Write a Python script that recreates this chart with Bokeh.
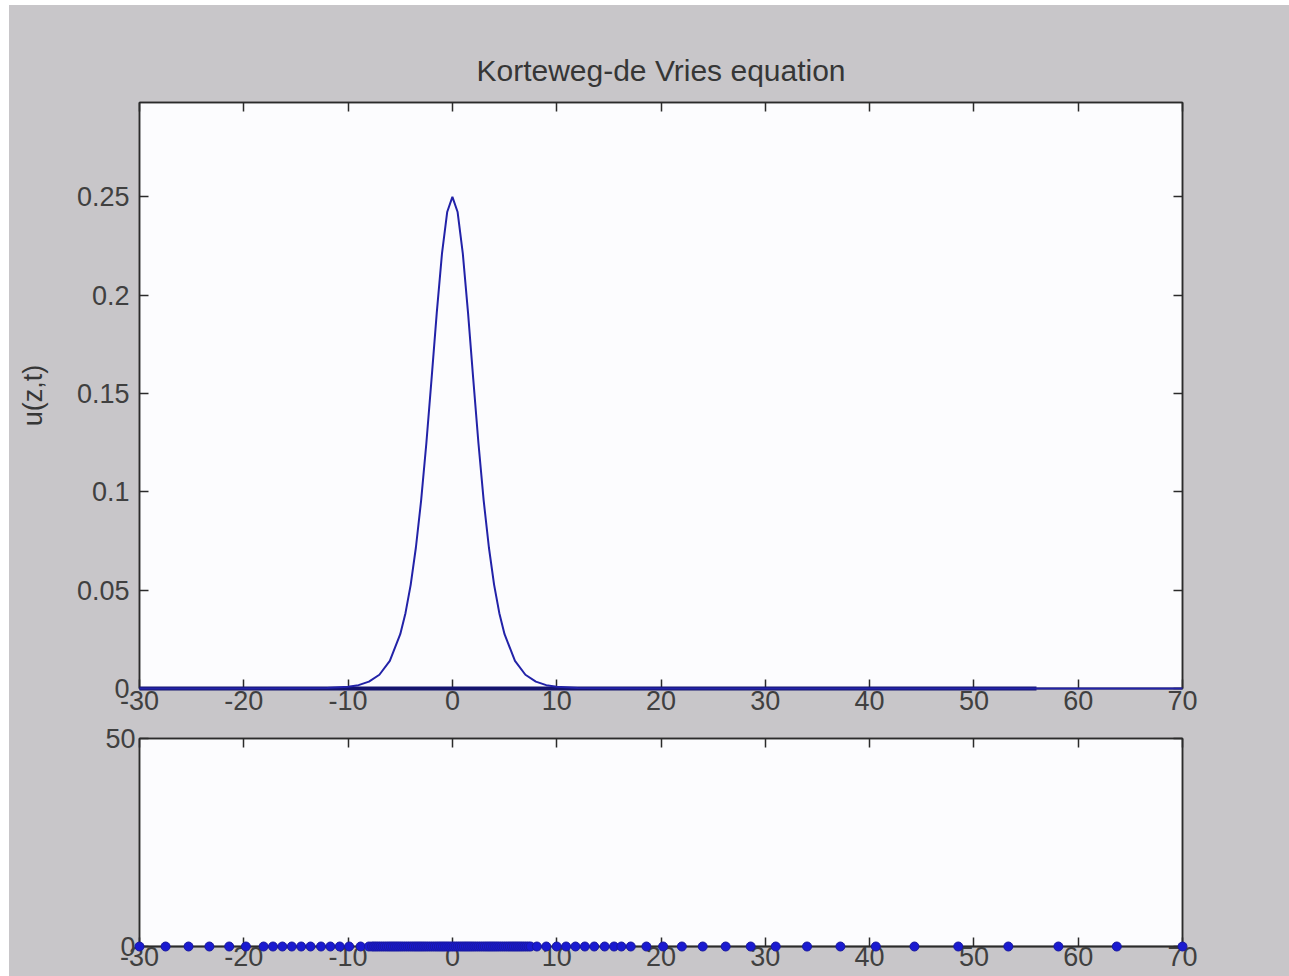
from bokeh.plotting import figure
from bokeh.layouts import column
from bokeh.models import LinearAxis, FixedTicker, Range1d
from bokeh.embed import file_html
from bokeh.resources import INLINE

# Soliton profile u(z,t) at the current time step
curve_z = [-30, -20, -12, -10, -9, -8, -7, -6, -5, -4.5, -4, -3.5, -3, -2.5, -2,
           -1.5, -1, -0.5, 0, 0.5, 1, 1.5, 2, 2.5, 3, 3.5, 4, 4.5, 5, 6, 7, 8,
           9, 10, 12, 20, 40, 56, 70]
curve_u = [0, 0, 0.0002, 0.0009, 0.0017, 0.0035, 0.0070, 0.0140, 0.0276, 0.0383,
           0.0527, 0.0717, 0.0955, 0.1246, 0.1573, 0.1910, 0.2211, 0.2423, 0.2500,
           0.2423, 0.2211, 0.1910, 0.1573, 0.1246, 0.0955, 0.0717, 0.0527, 0.0383,
           0.0276, 0.0140, 0.0070, 0.0035, 0.0017, 0.0009, 0.0002, 0, 0, 0, 0]

# Earlier profile that lies flat along the axis
base_z = [-30, 56]
base_u = [0, 0]

# Adaptive grid nodes (coarse far field, refined around the soliton)
mesh_left = [-30.0, -27.5, -25.3, -23.3, -21.4, -19.8, -18.1, -17.2, -16.3, -15.4,
             -14.5, -13.6, -12.6, -11.7, -10.8, -9.9, -8.8, -8.0]
mesh_core = [-7.7, -7.5, -7.3, -7.1, -6.9, -6.7, -6.5, -6.3, -6.1, -5.9, -5.7, -5.5,
             -5.3, -5.1, -4.9, -4.7, -4.5, -4.3, -4.1, -3.9, -3.7, -3.5, -3.3, -3.1,
             -2.9, -2.7, -2.5, -2.3, -2.1, -1.9, -1.7, -1.5, -1.3, -1.1, -0.9, -0.7,
             -0.5, -0.3, -0.1, 0.1, 0.3, 0.5, 0.7, 0.9, 1.1, 1.3, 1.5, 1.7, 1.9, 2.1,
             2.3, 2.5, 2.7, 2.9, 3.1, 3.3, 3.5, 3.7, 3.9, 4.1, 4.3, 4.5, 4.7, 4.9,
             5.1, 5.3, 5.5, 5.7, 5.9, 6.1, 6.3, 6.5, 6.7, 6.9, 7.1, 7.3, 7.5]
mesh_right = [8.1, 9.0, 10.0, 10.9, 11.8, 12.7, 13.6, 14.6, 15.5, 16.2, 17.1, 18.6,
              20.2, 22.0, 24.0, 26.2, 28.6, 31.0, 34.0, 37.2, 40.6, 44.3, 48.5,
              53.3, 58.1, 63.7, 70.0]
mesh_z = mesh_left + mesh_core + mesh_right
mesh_level = [0] * len(mesh_z)

z_ticks = [-30, -20, -10, 0, 10, 20, 30, 40, 50, 60, 70]
z_tick_labels = ["-30", "-20", "-10", "0", "10", "20", "30", "40", "50", "60", "70"]
u_ticks = [0, 0.05, 0.1, 0.15, 0.2, 0.25]
u_tick_labels = ["0", "0.05", "0.1", "0.15", "0.2", "0.25"]
level_ticks = [0, 50]

FIG_BG = "#c8c6c9"
AX_BG = "#fcfcfe"
INK = "#2b2b2b"
FONT = "Liberation Sans"
TICK_PX = "27px"

z_overrides = {t: s for t, s in zip(z_ticks, z_tick_labels)}
u_overrides = {t: s for t, s in zip(u_ticks, u_tick_labels)}


def style_axis(ax, ticks, show_labels=True, overrides=None):
    ax.ticker = FixedTicker(ticks=ticks)
    ax.major_tick_in = 9
    ax.major_tick_out = 0
    ax.minor_tick_in = 0
    ax.minor_tick_out = 0
    ax.axis_line_color = INK
    ax.axis_line_width = 1.5
    ax.major_tick_line_color = INK
    ax.major_tick_line_width = 1.5
    ax.major_label_text_font = FONT
    ax.major_label_text_color = "#404040"
    ax.major_label_text_font_size = TICK_PX
    if overrides:
        ax.major_label_overrides = overrides
    if not show_labels:
        ax.major_label_text_color = None
        ax.major_label_standoff = 0


# ---- upper panel: u(z,t) ----
p1 = figure(width=1280, height=718, output_backend="svg", toolbar_location=None,
            x_range=Range1d(-30, 70), y_range=Range1d(0, 0.298),
            min_border_left=130, min_border_right=107, min_border_top=97,
            min_border_bottom=35)
p1.border_fill_color = FIG_BG
p1.background_fill_color = AX_BG
p1.outline_line_color = INK
p1.outline_line_width = 1.5
p1.grid.visible = False

p1.title.text = "Korteweg-de Vries equation"
p1.title.align = "center"
p1.title.text_font = FONT
p1.title.text_font_size = "30px"
p1.title.text_font_style = "normal"
p1.title.text_color = "#363636"
p1.title.standoff = 32

style_axis(p1.xaxis[0], z_ticks, overrides=z_overrides)
p1.xaxis[0].major_label_standoff = 2
style_axis(p1.yaxis[0], u_ticks, overrides=u_overrides)
p1.yaxis[0].major_label_standoff = 10
p1.yaxis[0].axis_label = "u(z,t)"
p1.yaxis[0].axis_label_text_font = FONT
p1.yaxis[0].axis_label_text_font_style = "normal"
p1.yaxis[0].axis_label_text_font_size = "27px"
p1.yaxis[0].axis_label_text_color = "#363636"
p1.yaxis[0].axis_label_standoff = 26

top1 = LinearAxis()
style_axis(top1, z_ticks, show_labels=False)
p1.add_layout(top1, "above")
right1 = LinearAxis()
style_axis(right1, u_ticks, show_labels=False)
p1.add_layout(right1, "right")

p1.line(base_z, base_u, line_color="#14146e", line_width=4, level="overlay")
p1.line(curve_z, curve_u, line_color="#2222a8", line_width=2, level="overlay")

# ---- lower panel: grid node positions ----
p2 = figure(width=1280, height=253, output_backend="svg", toolbar_location=None,
            x_range=Range1d(-30, 70), y_range=Range1d(0, 50),
            min_border_left=130, min_border_right=107, min_border_top=15,
            min_border_bottom=30)
p2.border_fill_color = FIG_BG
p2.background_fill_color = AX_BG
p2.outline_line_color = INK
p2.outline_line_width = 1.5
p2.grid.visible = False

style_axis(p2.xaxis[0], z_ticks, overrides=z_overrides)
p2.xaxis[0].major_label_standoff = 0
style_axis(p2.yaxis[0], level_ticks)
p2.yaxis[0].major_label_standoff = 4

top2 = LinearAxis()
style_axis(top2, z_ticks, show_labels=False)
p2.add_layout(top2, "above")
right2 = LinearAxis()
style_axis(right2, level_ticks, show_labels=False)
p2.add_layout(right2, "right")

p2.line(mesh_z, mesh_level, line_color=INK, line_width=1.5, level="overlay")
p2.scatter(mesh_z, mesh_level, size=9, fill_color="#1a1ad0",
           line_color="#1818a0", line_width=1, level="overlay")

layout = column(p1, p2, spacing=0,
                styles={"margin-left": "9px", "margin-top": "5px",
                        "background-color": FIG_BG})

open("out.html", "w").write(file_html(layout, INLINE))
